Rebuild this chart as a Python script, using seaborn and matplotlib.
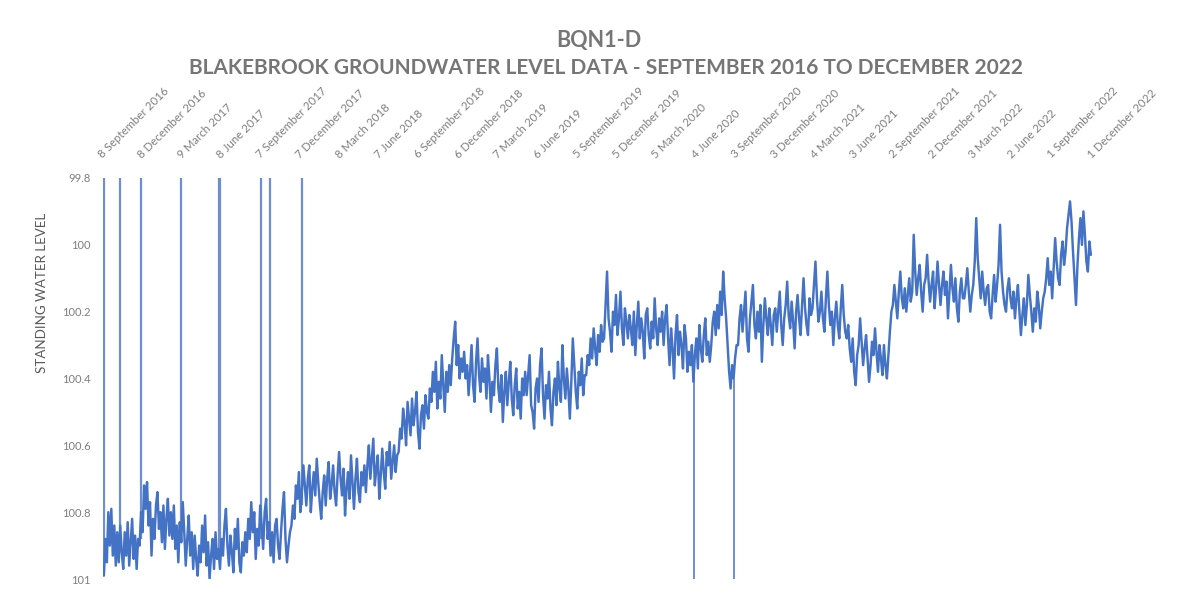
import numpy as np
import pandas as pd
import matplotlib
matplotlib.use("Agg")
import matplotlib.pyplot as plt
import matplotlib.ticker as mticker
import seaborn as sns

# ---------------- data ----------------
first_reading = "2016-09-08"
last_reading = "2022-11-26"

tick_labels = [
    "8 September 2016", "8 December 2016", "9 March 2017", "8 June 2017",
    "7 September 2017", "7 December 2017", "8 March 2018", "7 June 2018",
    "6 September 2018", "6 December 2018", "7 March 2019", "6 June 2019",
    "5 September 2019", "5 December 2019", "5 March 2020", "4 June 2020",
    "3 September 2020", "3 December 2020", "4 March 2021", "3 June 2021",
    "2 September 2021", "2 December 2021", "3 March 2022", "2 June 2022",
    "1 September 2022", "1 December 2022",
]

y_ticks = [99.8, 100.0, 100.2, 100.4, 100.6, 100.8, 101.0]
y_tick_labels = ["99.8", "100", "100.2", "100.4", "100.6", "100.8", "101"]

# twice-weekly standing water level readings
levels_2016_2017 = [
    100.99, 100.88, 100.95, 100.80, 100.90, 100.79, 100.93, 100.84, 100.96, 100.86,
    100.95, 100.84, 100.92, 100.97, 100.86, 100.93, 100.83, 100.96, 100.89, 100.82,
    100.94, 100.87, 100.97, 100.88,
    100.90, 100.80, 100.86, 100.72, 100.79, 100.71, 100.84, 100.77, 100.93, 100.82,
    100.88, 100.78,
    100.74, 100.85, 100.80, 100.89, 100.78, 100.91, 100.82, 100.76, 100.87, 100.80,
    100.88, 100.78, 100.91, 100.84, 100.95, 100.83, 100.89, 100.77, 100.86, 100.96,
    100.88, 100.81, 100.93, 100.86,
    100.97, 100.87, 100.94, 100.99, 100.90, 100.95, 100.84, 100.92, 100.81, 100.96,
    100.89, 101.00, 100.93, 100.88, 100.97, 100.86, 100.94, 100.91,
    100.97, 100.88, 100.93, 100.84, 100.79, 100.90, 100.96, 100.87, 100.92, 100.98,
    100.85, 100.91, 100.82, 100.95, 100.98, 100.89, 100.93, 100.86,
    100.92, 100.82, 100.88, 100.77, 100.86, 100.80, 100.94, 100.85, 100.90, 100.78,
    100.84, 100.91, 100.80, 100.76, 100.88, 100.83, 100.93, 100.86, 100.95, 100.84,
    100.82, 100.90, 100.94, 100.86, 100.79, 100.74, 100.88, 100.95, 100.90, 100.86,
]
levels_2018 = [
    100.84, 100.78, 100.82, 100.72, 100.76, 100.68, 100.80, 100.74, 100.66, 100.72,
    100.78, 100.70, 100.66, 100.80, 100.73, 100.68, 100.75, 100.64, 100.71, 100.77,
    100.82, 100.74, 100.69, 100.78, 100.70, 100.65, 100.76, 100.72,
    100.66, 100.74, 100.78, 100.69, 100.62, 100.70, 100.75, 100.67, 100.81, 100.73,
    100.68, 100.76, 100.63, 100.71, 100.79, 100.70, 100.64, 100.74, 100.77, 100.68,
    100.72, 100.66,
    100.74, 100.66, 100.60, 100.70, 100.64, 100.58, 100.72, 100.67, 100.63, 100.76,
    100.69, 100.61, 100.68, 100.73, 100.62, 100.66, 100.59, 100.70, 100.65, 100.60,
    100.68, 100.63,
    100.62, 100.55, 100.58, 100.49, 100.53, 100.60, 100.47, 100.52, 100.57, 100.46,
    100.54, 100.50, 100.44, 100.56, 100.61, 100.51, 100.48, 100.55, 100.45, 100.50,
]
levels_2019 = [
    100.52, 100.43, 100.47, 100.38, 100.44, 100.35, 100.49, 100.41, 100.46, 100.33,
    100.42, 100.50, 100.38, 100.44, 100.36, 100.42,
    100.34, 100.28, 100.23, 100.36, 100.30, 100.40, 100.34, 100.38,
    100.32, 100.40, 100.36, 100.45, 100.38, 100.30, 100.42, 100.47, 100.35, 100.28,
    100.39, 100.44, 100.34, 100.41, 100.37, 100.46, 100.33, 100.40,
    100.50, 100.41, 100.45, 100.36, 100.31, 100.43, 100.47, 100.39, 100.53, 100.44,
    100.38, 100.48, 100.41, 100.35, 100.46, 100.51, 100.42, 100.37, 100.49, 100.44,
    100.52, 100.40, 100.45, 100.38,
    100.45, 100.39, 100.33, 100.48, 100.50, 100.55, 100.43, 100.40, 100.47, 100.36,
    100.31, 100.45, 100.52, 100.42, 100.46, 100.38, 100.49, 100.54, 100.44, 100.40,
    100.48, 100.35, 100.43, 100.47,
    100.30, 100.40, 100.46, 100.37, 100.43, 100.52, 100.41, 100.28, 100.36, 100.44,
    100.49, 100.38, 100.42, 100.34, 100.45, 100.39,
    100.39, 100.33, 100.36, 100.28, 100.34, 100.25, 100.31, 100.36, 100.27, 100.32,
    100.24, 100.29,
]
levels_2020 = [
    100.28, 100.18, 100.08, 100.22, 100.26, 100.32, 100.20, 100.24, 100.15, 100.27,
    100.22, 100.14, 100.25, 100.30, 100.19, 100.23, 100.28, 100.21,
    100.25, 100.30, 100.20, 100.33, 100.24, 100.17, 100.28, 100.22, 100.26, 100.34,
    100.21, 100.19, 100.27, 100.31, 100.23, 100.28, 100.16, 100.25, 100.30, 100.22,
    100.26, 100.20,
    100.30, 100.22, 100.18, 100.28, 100.36, 100.25, 100.31, 100.40, 100.27, 100.21,
    100.33, 100.26, 100.30, 100.37, 100.24, 100.28, 100.38, 100.32,
    100.36, 100.30, 100.41, 100.33, 100.28, 100.37, 100.24, 100.31, 100.35, 100.27,
    100.22, 100.33, 100.29, 100.35,
    100.30, 100.23, 100.20, 100.27, 100.18, 100.25, 100.14, 100.21, 100.08, 100.16,
    100.22, 100.30,
    100.38, 100.43, 100.36, 100.40, 100.34, 100.30,
    100.30, 100.22, 100.18, 100.26, 100.20, 100.14, 100.28, 100.32, 100.22, 100.17,
    100.12, 100.24, 100.28, 100.20, 100.26, 100.18, 100.35, 100.24, 100.16, 100.22,
    100.27, 100.19, 100.24, 100.30, 100.21, 100.19,
]
levels_2021 = [
    100.26, 100.20, 100.14, 100.24, 100.30, 100.22, 100.18, 100.11, 100.21, 100.25,
    100.17, 100.23, 100.31, 100.20, 100.15, 100.22, 100.27, 100.18, 100.10, 100.19,
    100.24, 100.27, 100.16, 100.21, 100.19, 100.12, 100.05, 100.16, 100.23, 100.20,
    100.14, 100.22, 100.26, 100.16, 100.08, 100.18, 100.24, 100.20, 100.30, 100.22,
    100.17, 100.24, 100.28, 100.19, 100.12, 100.21, 100.26, 100.28,
    100.24, 100.31, 100.35, 100.28, 100.38, 100.42, 100.33, 100.30, 100.22, 100.29,
    100.36, 100.31, 100.27, 100.34, 100.41, 100.36, 100.29, 100.33, 100.25, 100.32,
    100.38, 100.30, 100.34, 100.39, 100.30, 100.36, 100.40, 100.33,
    100.26, 100.20, 100.18, 100.12, 100.17, 100.22, 100.14, 100.08, 100.16, 100.19,
    100.13, 100.20, 100.15, 100.10, 100.17, 100.14,
    99.97, 100.08, 100.15, 100.10, 100.06, 100.14, 100.20, 100.12, 100.10, 100.03,
    100.11, 100.17, 100.12, 100.08, 100.19, 100.13, 100.05, 100.12,
]
levels_2022 = [
    100.18, 100.12, 100.08, 100.15, 100.11, 100.22, 100.14, 100.06, 100.13, 100.17,
    100.10, 100.19, 100.23, 100.14, 100.10, 100.16,
    100.16, 100.12, 100.07, 100.14, 100.20, 100.15, 100.12, 100.05, 99.92, 100.04,
    100.10, 100.16,
    100.08, 100.14, 100.18, 100.13, 100.12, 100.20, 100.22, 100.15, 100.09, 100.17,
    100.12, 100.06, 99.94, 100.08, 100.14, 100.18, 100.20, 100.13, 100.10, 100.16,
    100.19, 100.14,
    100.22, 100.16, 100.12, 100.20, 100.27, 100.21, 100.16, 100.24, 100.18, 100.09,
    100.15, 100.20, 100.26, 100.19, 100.23, 100.14, 100.18, 100.25, 100.20, 100.16,
    100.14, 100.10, 100.04, 100.12, 100.08, 100.16, 100.07, 99.98, 100.05, 100.10,
    100.12, 100.03, 99.99, 100.06, 100.02, 99.95, 99.91, 99.87,
    99.93, 100.02, 100.10, 100.18, 100.06, 99.98, 99.92, 100.00, 99.90, 99.97,
    100.05, 100.08, 99.99, 100.03,
]

# single-reading spikes (logger glitches)
spike_up_dates = ["2016-09-09", "2016-10-15", "2016-12-02", "2017-03-04", "2017-05-31",
                  "2017-06-02", "2017-09-04", "2017-09-25", "2017-12-07"]
spike_up_from = [100.98, 100.85, 100.88, 100.86, 100.92, 100.92, 100.88, 100.86, 100.78]
spike_up_to = [99.8] * len(spike_up_dates)
spike_down_dates = ["2020-05-28", "2020-08-28"]
spike_down_from = [100.36, 100.40]
spike_down_to = [101.0, 101.0]

# ---------------- build table ----------------
levels = (levels_2016_2017 + levels_2018 + levels_2019 + levels_2020
          + levels_2021 + levels_2022)
dates = pd.date_range(first_reading, last_reading, periods=len(levels))
df = pd.DataFrame({"date": dates, "level": levels})
tick_dates = pd.to_datetime(tick_labels, format="%d %B %Y")

# ---------------- style ----------------
sns.set_theme(style="white")
plt.rcParams["font.family"] = ["Lato", "DejaVu Sans"]

line_color = "#4472C4"
spike_color = "#6E8ED3"
text_grey = "#7F7F7F"
title_grey = "#767676"

W, H = 1185, 610
fig = plt.figure(figsize=(W / 100, H / 100), dpi=100)
fig.patch.set_facecolor("white")
ax = fig.add_axes([103 / W, 1 - 579 / H, (1100 - 103) / W, 401 / H])
ax.set_facecolor("white")

ax.vlines(pd.to_datetime(spike_up_dates), spike_up_from, spike_up_to,
          color=spike_color, linewidth=1.6, zorder=1)
ax.vlines(pd.to_datetime(spike_down_dates), spike_down_from, spike_down_to,
          color=spike_color, linewidth=1.4, zorder=1)
sns.lineplot(data=df, x="date", y="level", ax=ax, color=line_color,
             linewidth=1.75, zorder=2)

ax.set_ylim(101.0, 99.8)
ax.set_xlim(tick_dates[0] - pd.Timedelta(days=2), tick_dates[-1] + pd.Timedelta(days=16))

ax.set_yticks(y_ticks)
ax.yaxis.set_major_formatter(mticker.FixedFormatter(y_tick_labels))
ax.tick_params(axis="y", length=0, pad=9, labelsize=8, labelcolor=text_grey)

ax.xaxis.tick_top()
ax.set_xticks(tick_dates)
ax.set_xticklabels(tick_labels, rotation=45, ha="left", va="bottom",
                   rotation_mode="anchor")
ax.tick_params(axis="x", length=0, pad=13, labelsize=8.3, labelcolor=text_grey)

ax.set_xlabel("")
ax.set_ylabel("")
for s in ax.spines.values():
    s.set_visible(False)
ax.grid(False)

fig.text(42 / W, 1 - 293 / H, "STANDING WATER LEVEL", rotation=90,
         ha="center", va="center", fontsize=9.6, color="#595959")
fig.text(599 / W, 1 - 40 / H, "BQN1-D", ha="center", va="center",
         fontsize=15.5, fontweight="bold", color=title_grey)
fig.text(606 / W, 1 - 68 / H,
         "BLAKEBROOK GROUNDWATER LEVEL DATA - SEPTEMBER 2016 TO DECEMBER 2022",
         ha="center", va="center", fontsize=15, fontweight="bold", color=title_grey)

fig.savefig("out.png", dpi=100, facecolor="white")
